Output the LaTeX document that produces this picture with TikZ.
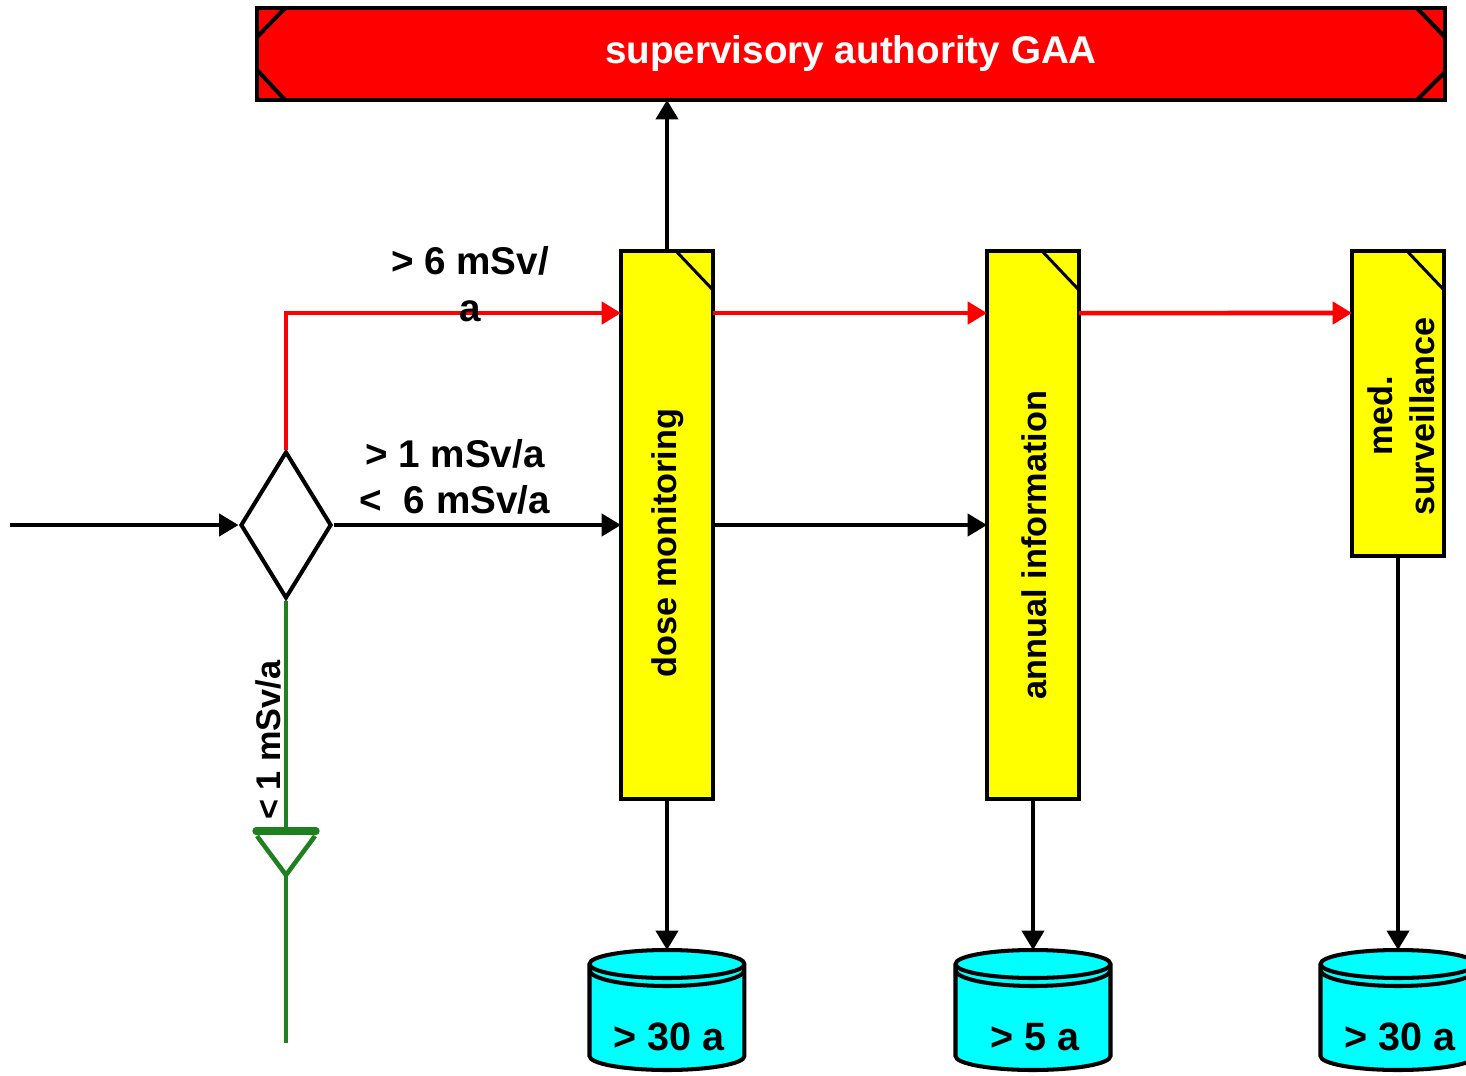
\documentclass[tikz,border=0pt]{standalone}
\usepackage{fontspec}
\setmainfont{Liberation Sans}
\usetikzlibrary{arrows.meta,shapes.geometric,backgrounds}

\definecolor{gaared}{RGB}{255,0,0}
\definecolor{boxyellow}{RGB}{255,255,0}
\definecolor{cylcyan}{RGB}{0,255,255}
\definecolor{sinkgreen}{RGB}{30,128,30}

% cylinder drawn round a store node
\newcommand\storedrum[1]{%
  \draw[line width=2.3pt, fill=cylcyan] (#1.north west) ++(0,14) -- ++(0,92)
    arc[start angle=180, end angle=360, x radius=1.55cm, y radius=0.28cm]
    -- ++(0,-92)
    arc[start angle=0, end angle=180, x radius=1.55cm, y radius=0.28cm] -- cycle;
  \draw[line width=2.3pt] (#1.north west) ++(0,14)
    arc[start angle=180, end angle=360, x radius=1.55cm, y radius=0.28cm];
  \draw[line width=2.3pt] (#1.north west) ++(0,20)
    arc[start angle=180, end angle=360, x radius=1.55cm, y radius=0.32cm];
}

\begin{document}
\begin{tikzpicture}[x=0.02cm, y=-0.02cm, line width=2.3pt,
    tip/.style={-{Triangle[length=11pt,width=12.5pt]}},
    authority/.style={shape=rectangle, draw, fill=gaared, text=white, outer sep=0pt,
      minimum width=23.76cm, minimum height=1.84cm, inner sep=0pt,
      font=\fontsize{22}{26}\selectfont\bfseries},
    decision/.style={shape=diamond, draw, fill=white, inner sep=0pt,
      minimum width=1.82cm, minimum height=2.94cm},
    stepbox/.style={shape=rectangle, draw, fill=boxyellow, outer sep=0pt,
      minimum width=1.84cm, inner sep=0pt},
    steptext/.style={rotate=90, align=center, font=\fontsize{19.5}{24}\selectfont\bfseries},
    store/.style={shape=rectangle, minimum width=3.1cm, minimum height=2.4cm, inner sep=0pt},
    storetext/.style={font=\fontsize{22.5}{26}\selectfont\bfseries},
    flowlabel/.style={align=center, font=\fontsize{22}{26.5}\selectfont\bfseries},
  ]
  \useasboundingbox (0,0) rectangle (1466,1075);

  \node (z1)[authority] at (851,54) {supervisory authority GAA};
  \draw ([xshift=0.56cm]z1.north west) -- ([yshift=-0.58cm]z1.north west);
  \draw ([xshift=0.56cm]z1.south west) -- ([yshift=0.6cm]z1.south west);
  \draw ([xshift=-0.56cm]z1.north east) -- ([yshift=-0.58cm]z1.north east);
  \draw ([xshift=-0.56cm]z1.south east) -- ([yshift=0.56cm]z1.south east);

  \coordinate (z0) at (10,525);
  \node (z2)[decision] at (286,525) {};
  \coordinate (z3) at (286,831);
  \coordinate (z10) at (286,1043);

  \node (z4)[stepbox, minimum height=10.96cm] at (667,525) {};
  \node (z5)[stepbox, minimum height=10.96cm] at (1033,525) {};
  \node (z6)[stepbox, minimum height=6.1cm] at (1398,403.5) {};
  \foreach \b in {z4,z5,z6}
    \draw[line width=1.7pt] ([xshift=-0.74cm]\b.north east) -- ([yshift=-0.78cm]\b.north east);

  \node[steptext] at (668,543) {dose monitoring};
  \node[steptext] at (1034,545) {annual information};
  \node[steptext] at (1401,416) {med.\\surveillance};

  \node (z7)[store, label={[storetext, yshift=-0.5cm]center:{> 30 a}}] at (669,1012) {};
  \node (z8)[store, label={[storetext, yshift=-0.5cm]center:{> 5 a}}] at (1035,1012) {};
  \node (z9)[store, label={[storetext, yshift=-0.5cm]center:{> 30 a}}] at (1400,1012) {};
  \begin{scope}[on background layer]
    \storedrum{z7}
    \storedrum{z8}
    \storedrum{z9}
  \end{scope}

  % flows
  \draw[tip] (z0) -- (z2.west);
  \draw[tip] (z2.east) -- (z4.west);
  \draw[tip] (z4.east) -- (z5.west);
  \draw[tip] (z4.north) -- (z4.north |- z1.south);
  \draw[tip] (z4.south) -- (z4.south |- z7.north);
  \draw[tip] (z5.south) -- (z5.south |- z8.north);
  \draw[tip] (z6.south) -- (z6.south |- z9.north);

  \draw[gaared, line width=2.6pt, tip] (z2.north) |- ([yshift=-1.24cm]z4.north west);
  \draw[gaared, line width=2.6pt, tip] ([yshift=-1.24cm]z4.north east) -- ([yshift=-1.24cm]z5.north west);
  \draw[gaared, line width=2.6pt, tip] ([yshift=-1.24cm]z5.north east) -- ([yshift=-1.24cm]z6.north west);

  \draw[sinkgreen, line width=2.6pt] (z2.south) -- (z3);
  \draw[sinkgreen, line width=4.2pt, line cap=round] ([xshift=-0.6cm]z3) -- ([xshift=0.6cm]z3);
  \draw[sinkgreen, line width=2.6pt] ([xshift=-0.58cm, yshift=-0.1cm]z3) -- ([yshift=-0.88cm]z3)
    -- ([xshift=0.58cm, yshift=-0.1cm]z3);
  \draw[sinkgreen, line width=2.6pt] ([yshift=-0.88cm]z3) -- (z10);

  \node (z11)[flowlabel] at (470,284) {> 6 mSv/\\a};
  \node (z12)[flowlabel] at (455,477) {> 1 mSv/a\\<~~6 mSv/a};
  \node (z13)[steptext] at (268,740) {< 1 mSv/a};
\end{tikzpicture}
\end{document}
